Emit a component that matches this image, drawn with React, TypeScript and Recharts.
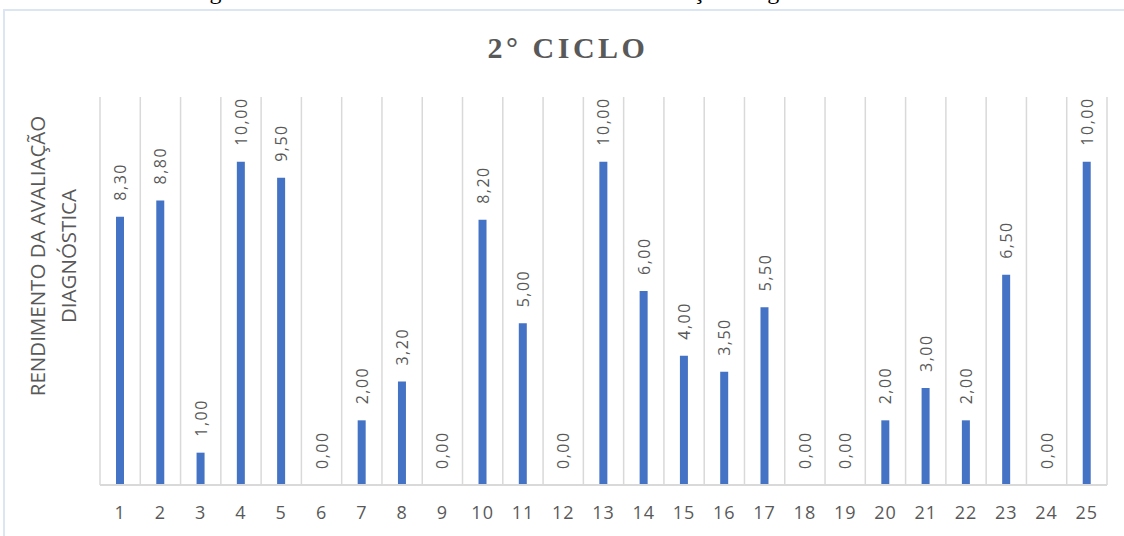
import React from "react";
import { ComposedChart, Bar, Line, XAxis, YAxis, CartesianGrid, LabelList } from "recharts";

// Students (1..25) and their diagnostic assessment scores
const students: string[] = [
  "1", "2", "3", "4", "5", "6", "7", "8", "9", "10", "11", "12", "13",
  "14", "15", "16", "17", "18", "19", "20", "21", "22", "23", "24", "25",
];
const scores: number[] = [
  8.3, 8.8, 1.0, 10.0, 9.5, 0.0, 2.0, 3.2, 0.0, 8.2, 5.0, 0.0, 10.0,
  6.0, 4.0, 3.5, 5.5, 0.0, 0.0, 2.0, 3.0, 2.0, 6.5, 0.0, 10.0,
];
const yDomain: [number, number] = [0, 12];

const chartTitle = "2° CICLO";
const yTitleLines = ["RENDIMENTO DA AVALIAÇÃO", "DIAGNÓSTICA"];
const caption = "Figura 11 – Rendimento de cada estudante na Avaliação Diagnóstica do 2º Ciclo";

const data = students.map((s, i) => ({ student: s, score: scores[i] }));

const W = 1124;
const H = 536;
const GRID = "#d9d9d9";
const TEXT = "#595959";
const BAR = "#4472C4";
const SANS = "'Open Sans', 'Noto Sans', sans-serif";

const fmt = (v: number) => v.toFixed(2).replace(".", ",");

// Rotated value label placed just above the top of each bar (zero bars included)
const ValueLabel = (props: any) => {
  const { x, y, value } = props;
  const cx = Number(x);
  const ty = Number(y) - 16;
  return (
    <text
      x={cx}
      y={ty}
      transform={`rotate(-90 ${cx} ${ty})`}
      textAnchor="start"
      dominantBaseline="central"
      fontFamily={SANS}
      fontSize={16}
      letterSpacing={1.5}
      fill={TEXT}
    >
      {fmt(Number(value))}
    </text>
  );
};

const StudentTick = (props: any) => {
  const { x, y, payload } = props;
  return (
    <text
      x={x}
      y={y + 19}
      textAnchor="middle"
      dominantBaseline="central"
      fontFamily={SANS}
      fontSize={18}
      letterSpacing={1}
      fill={TEXT}
    >
      {payload.value}
    </text>
  );
};

// Vertical gridlines sit on the category boundaries
const boundaryLines = ({ offset }: any) => {
  const n = students.length;
  const out: number[] = [];
  for (let i = 0; i <= n; i++) out.push(offset.left + (offset.width * i) / n);
  return out;
};

export default function App() {
  return (
    <div style={{ position: "absolute", left: 0, top: 0, width: W, height: H, overflow: "hidden", background: "#fff" }}>
      <div
        style={{
          position: "absolute",
          left: 3,
          top: 9,
          width: W + 20,
          height: H + 20,
          border: "2px solid #dce6f2",
          boxSizing: "border-box",
        }}
      />
      <div style={{ position: "absolute", left: 0, top: 0 }}>
        <ComposedChart
          width={W}
          height={H}
          data={data}
          margin={{ top: 97, right: 17, bottom: 0, left: 100 }}
          barCategoryGap={0}
        >
          <CartesianGrid
            horizontal={false}
            vertical={true}
            stroke={GRID}
            strokeWidth={1.5}
            verticalCoordinatesGenerator={boundaryLines}
          />
          <XAxis
            dataKey="student"
            height={51}
            axisLine={{ stroke: GRID, strokeWidth: 2 }}
            tickLine={false}
            interval={0}
            tick={<StudentTick />}
          />
          <YAxis hide domain={yDomain} width={0} />
          <Bar dataKey="score" fill={BAR} barSize={8} isAnimationActive={false} />
          <Line
            dataKey="score"
            stroke="none"
            dot={false}
            activeDot={false}
            legendType="none"
            isAnimationActive={false}
          >
            <LabelList dataKey="score" content={<ValueLabel />} />
          </Line>
        </ComposedChart>
      </div>
      <svg
        width={W}
        height={H}
        style={{ position: "absolute", left: 0, top: 0, pointerEvents: "none" }}
      >
        <text
          x={575}
          y={-1}
          textAnchor="middle"
          fontFamily="'Liberation Serif', 'DejaVu Serif', serif"
          fontSize={24}
          fill="#000"
        >
          {caption}
        </text>
        <text
          x={568}
          y={47}
          textAnchor="middle"
          dominantBaseline="central"
          fontFamily="'Liberation Serif', serif"
          fontWeight="bold"
          fontSize={30}
          letterSpacing={3.5}
          fill={TEXT}
        >
          {chartTitle}
        </text>
        {yTitleLines.map((line, i) => {
          const lx = 37 + i * 31;
          const ly = 256;
          return (
            <text
              key={line}
              x={lx}
              y={ly}
              transform={`rotate(-90 ${lx} ${ly})`}
              textAnchor="middle"
              dominantBaseline="central"
              fontFamily={SANS}
              fontSize={20.5}
              fill={TEXT}
            >
              {line}
            </text>
          );
        })}
      </svg>
    </div>
  );
}
